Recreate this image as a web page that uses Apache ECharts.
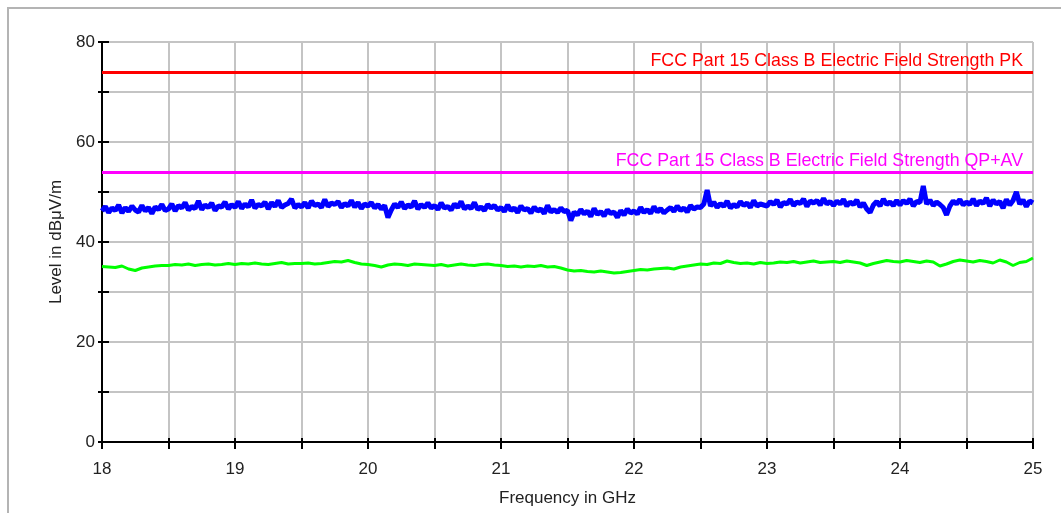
<!DOCTYPE html>
<html>
<head>
<meta charset="utf-8">
<script src="https://cdn.jsdelivr.net/npm/echarts@6/dist/echarts.min.js"></script>
<style>
  html, body { margin: 0; padding: 0; background: #fff; }
  #chart { width: 1061px; height: 513px; }
</style>
</head>
<body>
<div id="chart"></div>
<script>
// sweep: 18..25 GHz
const freqStart = 18
const peakStep = 0.025
const avgStep = 0.05

// peak trace (blue), one value per 25 MHz
const peakLevels = [
  46.2, 47.1, 45.9, 46.8, 46.3, 47.4, 45.8, 46.9, 46.1, 47.2, 46.4, 46.0, 47.3, 46.2, 46.9, 45.7, 47.0, 46.5, 47.5, 46.3,
  46.6, 47.6, 46.2, 47.3, 46.8, 47.9, 46.4, 47.1, 46.7, 48.2, 46.5, 47.4, 46.9, 47.8, 46.3, 47.2, 47.0, 48.0, 46.6, 47.5,
  46.9, 48.1, 46.7, 47.6, 47.0, 48.4, 46.8, 47.5, 47.2, 48.0, 46.6, 47.9, 47.1, 48.3, 46.9, 47.4, 47.7, 48.6, 46.8, 47.5,
  47.0, 47.9, 46.8, 48.2, 47.3, 47.6, 46.9, 48.5, 47.1, 47.8, 47.5, 48.1, 46.9, 47.7, 47.2, 48.3, 47.0, 47.9, 46.7, 47.6,
  47.2, 47.9, 46.8, 47.5, 46.6, 47.3, 44.9, 46.4, 47.6, 46.9, 48.0, 46.7, 47.4, 47.0, 48.2, 46.6, 47.5, 46.9, 47.8, 46.8,
  47.3, 46.5, 47.8, 46.8, 47.1, 46.4, 47.6, 46.9, 48.1, 46.6, 47.2, 46.7, 47.9, 46.5, 47.0, 46.3, 47.5, 46.8, 47.3, 46.4,
  46.9, 46.1, 47.4, 46.3, 46.8, 45.9, 47.2, 46.4, 46.7, 45.8, 47.0, 46.2, 46.6, 45.7, 47.3, 46.0, 46.5, 45.9, 46.8, 46.1,
  46.3, 44.3, 46.0, 45.4, 46.5, 45.6, 46.2, 45.1, 46.7, 45.5, 46.1, 45.2, 46.4, 45.7, 46.0, 44.9, 46.3, 45.4, 46.6, 45.8,
  46.2, 45.6, 46.9, 45.9, 46.5, 45.7, 47.1, 46.0, 46.7, 45.8, 46.4, 46.9, 46.1, 47.2, 46.3, 46.8, 46.0, 47.3, 46.6, 47.0,
  46.9, 47.6, 50.4, 47.2, 48.0, 46.9, 47.7, 47.1, 48.2, 46.8, 47.5, 47.0, 48.1, 47.3, 47.8, 46.9, 48.3, 47.2, 47.6, 47.4,
  47.2, 48.1, 47.5, 48.4, 47.0, 47.9, 47.6, 48.5, 47.3, 48.0, 47.7, 48.6, 47.1, 48.2, 47.8, 48.3, 47.4, 48.7, 47.6, 48.1,
  47.3, 48.2, 47.6, 48.5, 47.2, 48.0, 47.5, 48.4, 47.0, 47.8, 46.6, 45.9, 47.4, 48.1, 47.2, 48.6, 47.5, 48.0, 47.3, 48.3,
  47.4, 48.3, 47.7, 48.6, 47.2, 48.1, 47.9, 51.2, 47.6, 48.4, 47.3, 48.0, 47.5, 46.9, 45.4, 47.2, 48.2, 47.6, 48.5, 47.4,
  48.0, 47.5, 48.6, 47.3, 48.2, 47.7, 48.8, 47.2, 48.4, 47.6, 48.1, 46.8, 48.5, 47.4, 48.3, 50.0, 47.6, 48.4, 47.1, 48.2,
  47.8
]

// average trace (green), one value per 50 MHz
const avgLevels = [
  35.1, 35.0, 34.9, 35.2, 34.6, 34.3, 34.8, 35.0, 35.2, 35.3,
  35.3, 35.5, 35.4, 35.6, 35.3, 35.5, 35.6, 35.4, 35.5, 35.7,
  35.5, 35.7, 35.6, 35.8, 35.6, 35.5, 35.7, 35.9, 35.6, 35.7,
  35.7, 35.8, 35.6, 35.7, 35.9, 36.1, 36.0, 36.3, 35.9, 35.6,
  35.5, 35.3, 35.0, 35.4, 35.6, 35.5, 35.3, 35.6, 35.5, 35.4,
  35.3, 35.5, 35.2, 35.4, 35.6, 35.4, 35.3, 35.5, 35.6, 35.4,
  35.3, 35.1, 35.2, 35.0, 35.2, 35.1, 35.3, 35.0, 35.1, 34.8,
  34.4, 34.2, 34.3, 34.1, 34.0, 34.2, 34.0, 33.8, 33.9, 34.1,
  34.3, 34.5, 34.4, 34.6, 34.7, 34.8, 34.6, 35.0, 35.2, 35.4,
  35.6, 35.5, 35.8, 35.7, 36.2, 35.9, 35.7, 35.8, 35.6, 35.9,
  35.7, 35.8, 36.0, 35.9, 36.1, 35.8, 36.0, 36.2, 35.9, 36.0,
  36.1, 35.9, 36.2, 36.0, 35.8, 35.3, 35.7, 36.0, 36.3, 36.1,
  36.0, 36.3, 36.1, 35.9, 36.2, 36.0, 35.2, 35.6, 36.1, 36.4,
  36.2, 36.0, 36.3, 36.1, 35.8, 36.4, 36.0, 35.3, 35.9, 36.1,
  36.8
]

// limit lines
const limitPK = 74
const limitQPAV = 54
const limitPKName = 'FCC Part 15 Class B Electric Field Strength PK'
const limitQPAVName = 'FCC Part 15 Class B Electric Field Strength QP+AV'

const FONT = '"Liberation Sans", Arial, sans-serif'

const toPairs = (vals, step) => vals.map((v, i) => [+(freqStart + i * step).toFixed(4), v])

function limitLine(name, value, color) {
  return {
    name,
    type: 'line',
    data: [],
    markLine: {
      silent: true,
      symbol: 'none',
      lineStyle: { color, width: 3, type: 'solid' },
      label: {
        show: true,
        position: 'insideEndTop',
        formatter: name,
        color,
        fontFamily: FONT,
        fontSize: 17.8,
        distance: [10, 2]
      },
      data: [{ yAxis: value }]
    }
  }
}

const chart = echarts.init(document.getElementById('chart'))

const xCommon = {
  type: 'value',
  min: 18,
  max: 25,
  interval: 0.5
}
const yCommon = {
  type: 'value',
  min: 0,
  max: 80,
  interval: 10
}

chart.setOption({
  animation: false,
  backgroundColor: '#fff',
  graphic: [{
    type: 'rect',
    shape: { x: 8, y: 8, width: 1100, height: 560 },
    style: { fill: 'none', stroke: '#b4b4b4', lineWidth: 2 },
    z: -1
  }],
  grid: { left: 102, right: 28, top: 42, bottom: 71 },
  xAxis: [
    {
      ...xCommon,
      name: 'Frequency in GHz',
      nameLocation: 'middle',
      nameGap: 48,
      nameTextStyle: { color: '#222', fontFamily: FONT, fontSize: 17 },
      axisLine: { show: true, onZero: false, lineStyle: { color: '#000', width: 2 } },
      axisTick: { show: true, length: 7, lineStyle: { color: '#000', width: 2 } },
      axisLabel: {
        margin: 19,
        color: '#222',
        fontFamily: FONT,
        fontSize: 17,
        formatter: v => (Math.abs(v - Math.round(v)) < 1e-6 ? String(Math.round(v)) : '')
      },
      splitLine: { show: true, lineStyle: { color: '#c4c4c4', width: 2 } }
    },
    {
      ...xCommon,
      position: 'bottom',
      axisLine: { show: false },
      axisTick: { show: true, inside: true, length: 4, lineStyle: { color: '#000', width: 2 } },
      axisLabel: { show: false },
      splitLine: { show: false }
    }
  ],
  yAxis: [
    {
      ...yCommon,
      name: 'Level in dBμV/m',
      nameLocation: 'middle',
      nameGap: 36,
      nameTextStyle: { color: '#222', fontFamily: FONT, fontSize: 17 },
      axisLine: { show: true, lineStyle: { color: '#000', width: 2 } },
      axisTick: { show: true, length: 4, lineStyle: { color: '#000', width: 2 } },
      axisLabel: {
        margin: 7,
        color: '#222',
        fontFamily: FONT,
        fontSize: 17,
        formatter: v => (v % 20 === 0 ? String(v) : '')
      },
      splitLine: { show: true, lineStyle: { color: '#c4c4c4', width: 2 } }
    },
    {
      ...yCommon,
      position: 'left',
      axisLine: { show: false },
      axisTick: { show: true, inside: true, length: 7, lineStyle: { color: '#000', width: 2 } },
      axisLabel: { show: false },
      splitLine: { show: false }
    }
  ],
  series: [
    limitLine(limitPKName, limitPK, '#ff0000'),
    limitLine(limitQPAVName, limitQPAV, '#ff00ff'),
    {
      name: 'Peak',
      type: 'line',
      showSymbol: false,
      lineStyle: { color: '#0000ff', width: 5 },
      data: toPairs(peakLevels, peakStep),
      z: 3
    },
    {
      name: 'Average',
      type: 'line',
      showSymbol: false,
      lineStyle: { color: '#00ff00', width: 3 },
      data: toPairs(avgLevels, avgStep),
      z: 3
    }
  ]
})

window.addEventListener('resize', () => chart.resize())
</script>
</body>
</html>
